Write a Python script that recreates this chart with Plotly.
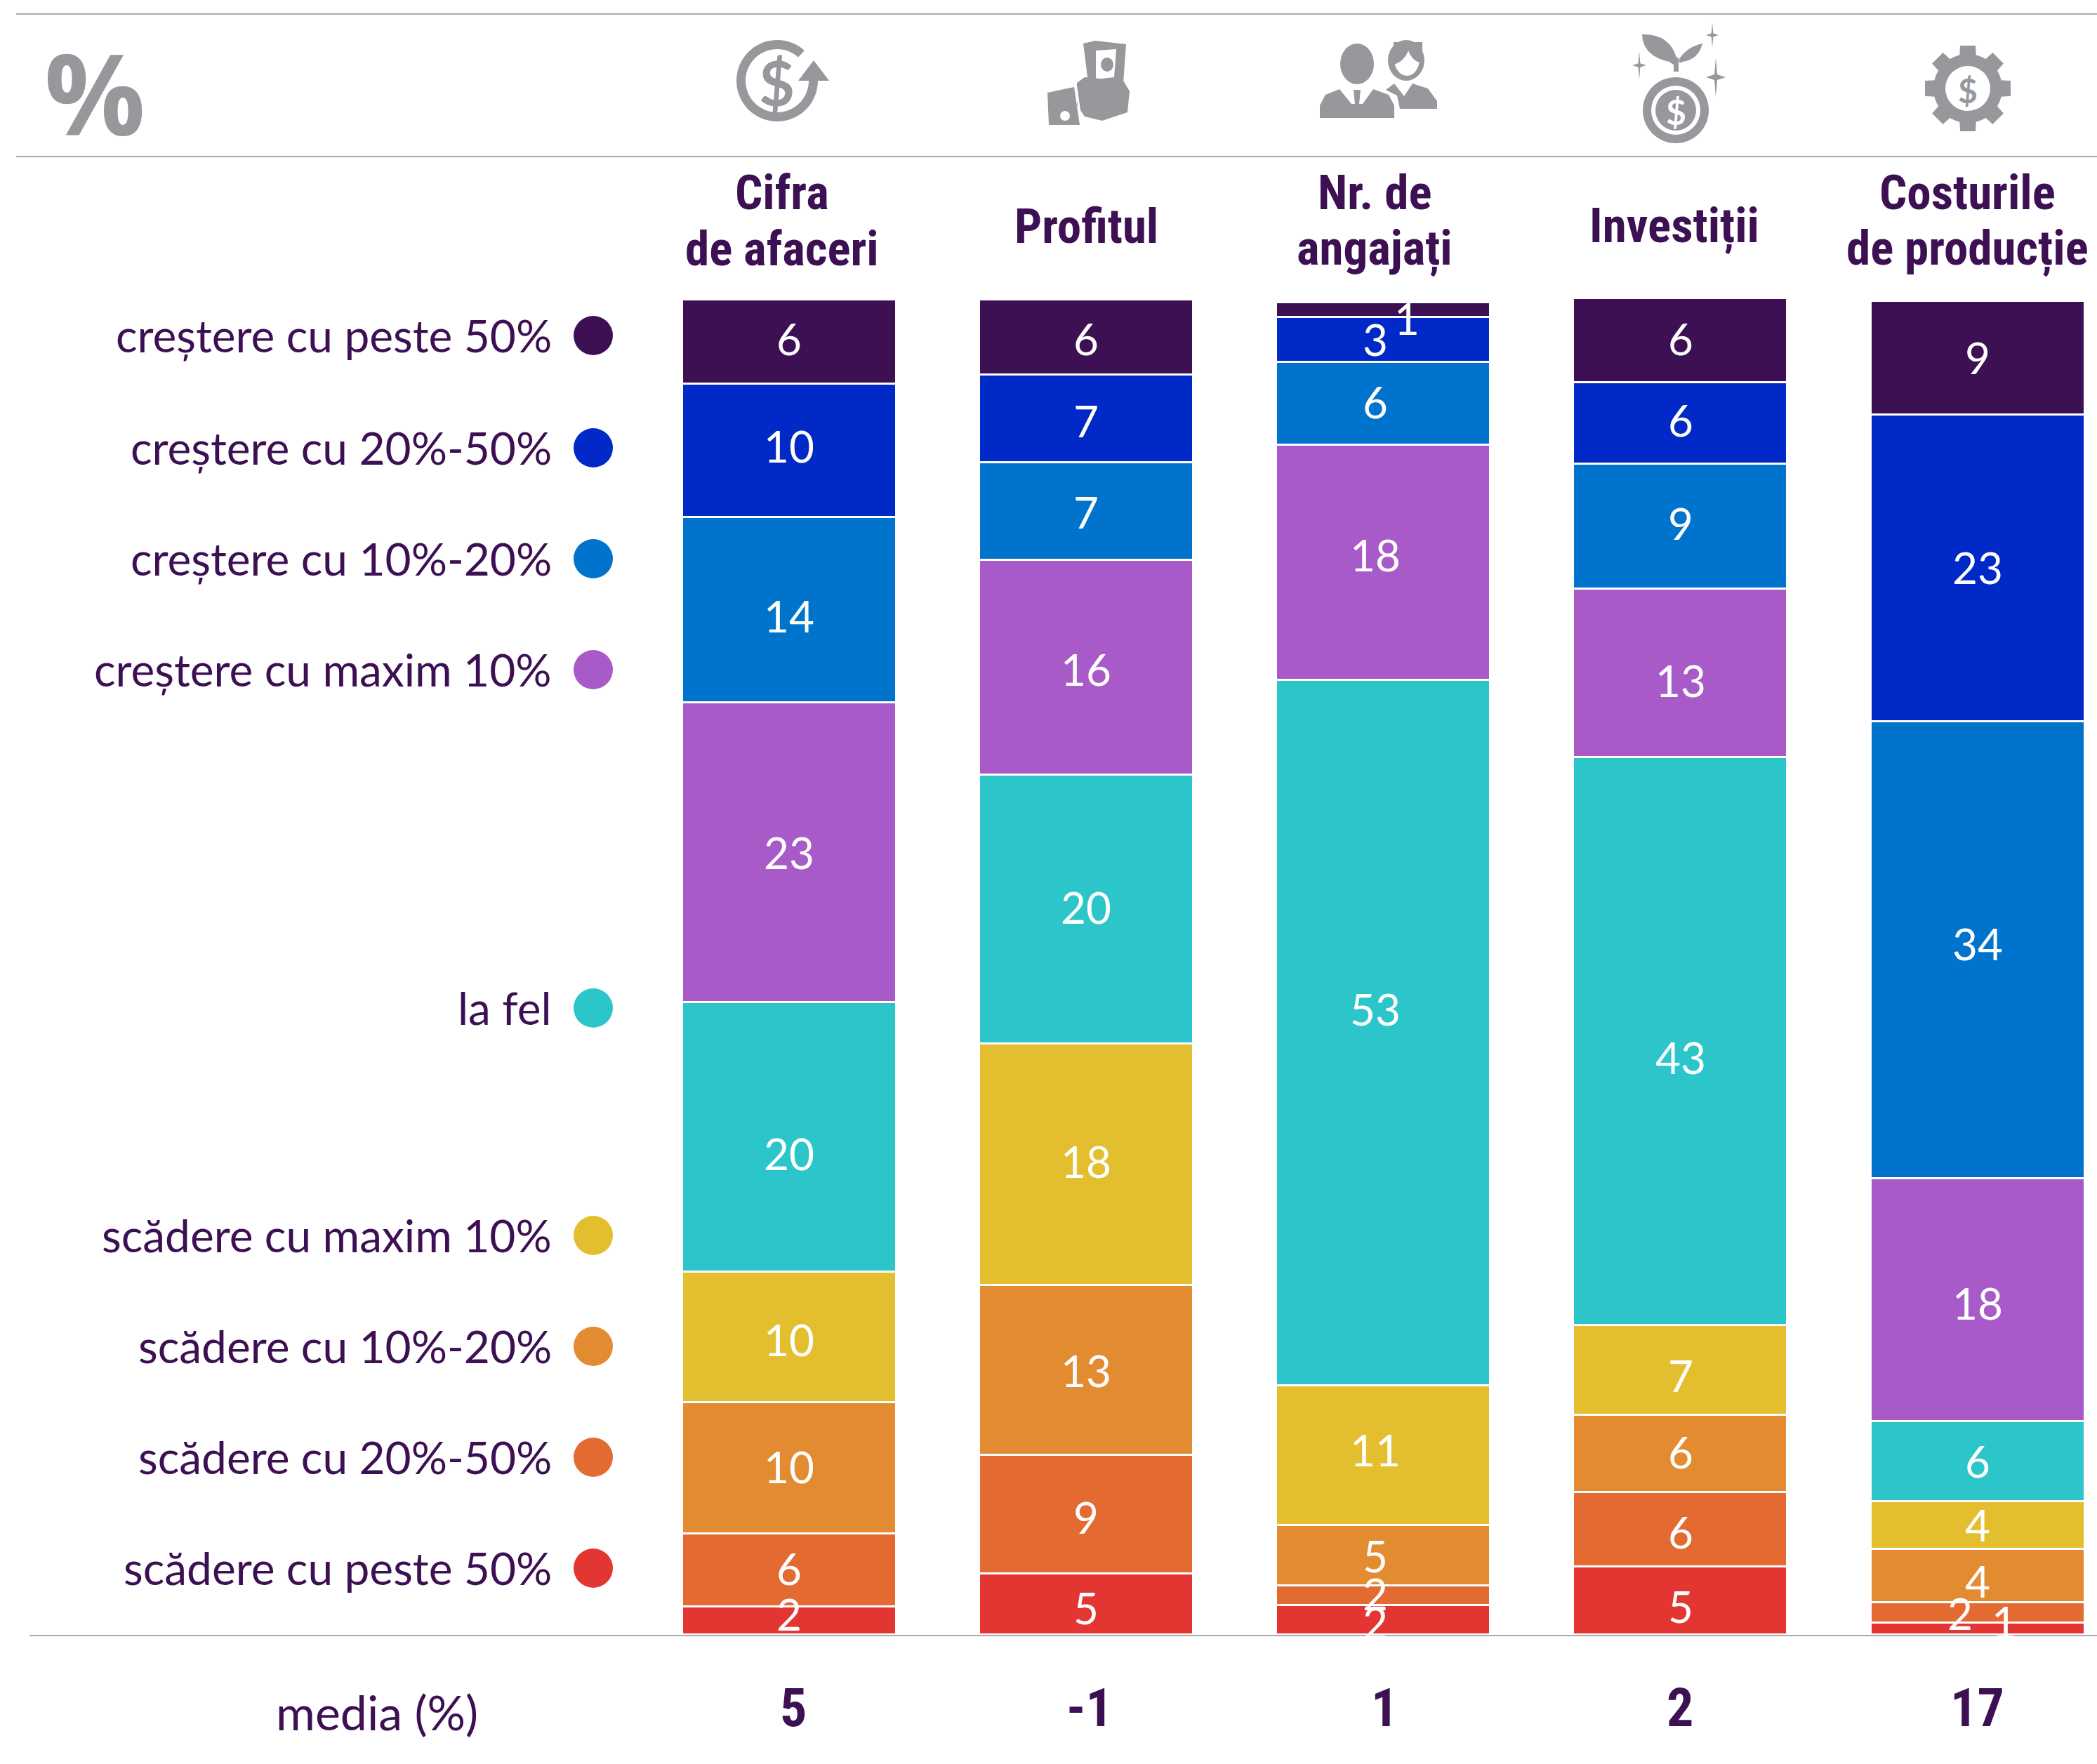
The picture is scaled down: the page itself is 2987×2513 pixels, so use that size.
import math
import plotly.graph_objects as go

# ---------- data ----------
categories = ["Cifra<br>de afaceri", "Profitul", "Nr. de<br>angajați", "Investiții", "Costurile<br>de producție"]
series_names = ["creștere cu peste 50%", "creștere cu 20%-50%", "creștere cu 10%-20%", "creștere cu maxim 10%",
                "la fel", "scădere cu maxim 10%", "scădere cu 10%-20%", "scădere cu 20%-50%", "scădere cu peste 50%"]
cr_peste50 = [6.3, 5.6, 1.1, 6.3, 8.5]
cr_20_50 = [10.0, 6.6, 3.4, 6.1, 23.0]
cr_10_20 = [13.9, 7.3, 6.2, 9.4, 34.3]
cr_max10 = [22.5, 16.1, 17.6, 12.6, 18.2]
la_fel = [20.2, 20.2, 52.9, 42.6, 6.0]
sc_max10 = [9.8, 18.1, 10.5, 6.7, 3.6]
sc_10_20 = [9.8, 12.7, 4.5, 5.8, 4.0]
sc_20_50 = [5.5, 8.9, 1.5, 5.6, 1.5]
sc_peste50 = [2.1, 4.6, 2.2, 5.1, 0.9]
series_values = [cr_peste50, cr_20_50, cr_10_20, cr_max10, la_fel, sc_max10, sc_10_20, sc_20_50, sc_peste50]
series_labels = [[6, 6, 1, 6, 9], [10, 7, 3, 6, 23], [14, 7, 6, 9, 34], [23, 16, 18, 13, 18], [20, 20, 53, 43, 6],
                 [10, 18, 11, 7, 4], [10, 13, 5, 6, 4], [6, 9, 2, 6, 2], [2, 5, 2, 5, 1]]
media = ["5", "-1", "1", "2", "17"]

# ---------- styles / layout constants ----------
W, H = 2987, 2513
colors = ["#3c1053", "#0029c7", "#0073cc", "#a75ac8", "#2cc5c9", "#e3bf2f", "#e38b30", "#e36b31", "#e33632"]
INK, GRAY, RULE = "#3c1053", "#97989b", "#a9aaac"
BODY = "Lato"
HEAD = "Noto Sans Condensed, Roboto Condensed, Open Sans Condensed, Lato"
PX_PER_UNIT = 19.0
BASE_Y = 2329
X0, STEP = 1124.0, 423.25
legend_y = [478, 638, 796, 954, 1436, 1760, 1918, 2076, 2234]
# nudges of value labels from their segment's centre, px (down positive), [series][column]
nudge_y = [[-2, 5, 15, 0, 2], [-4, 6, 2, -2, 2], [11, 4, 0, -2, -6], [2, 5, -8, 13, 7], [26, 0, -31, 25, 2],
           [6, -2, -5, 10, 2], [0, 3, 3, 0, 10], [0, 7, 0, 6, 3], [-7, 8, 6, 10, -7]]
nudge_x = {(0, 2): 33, (7, 4): -25, (8, 4): 38}
col_x = [0, 0, -12, 0, 0]

fig = go.Figure()
for i in reversed(range(9)):
    fig.add_trace(go.Bar(x=categories, y=series_values[i], name=series_names[i], width=305 / STEP,
                         marker=dict(color=colors[i], line=dict(color="white", width=3)),
                         xaxis="x", yaxis="y", showlegend=False, hoverinfo="x+y+name"))
# legend dots, on the pixel overlay
fig.add_trace(go.Scatter(x=[845] * 9, y=legend_y, mode="markers", xaxis="x2", yaxis="y2", showlegend=False,
                         hoverinfo="skip", marker=dict(size=56, color=colors, line=dict(width=0))))

ann = []
def text(x, y, s, size, color=INK, bold=False, anchor="center", family=BODY):
    ann.append(dict(x=x, y=y, xref="x2", yref="y2", text=f"<b>{s}</b>" if bold else s, showarrow=False,
                    xanchor=anchor, yanchor="middle", align="center",
                    font=dict(size=size, color=color, family=family)))

# value labels
for c in range(5):
    cum = 0.0
    stack = []
    for i in reversed(range(9)):
        stack.append((i, cum + series_values[i][c] / 2))
        cum += series_values[i][c]
    for i, mid in stack:
        ann.append(dict(x=c, y=mid, xref="x", yref="y", text=str(series_labels[i][c]), showarrow=False,
                        xshift=nudge_x.get((i, c), col_x[c]), yshift=3 - nudge_y[i][c], xanchor="center", yanchor="middle",
                        font=dict(size=62, color="white", family=BODY)))

# legend labels
for name, y in zip(series_names, legend_y):
    text(788, y - 1, name, 64, anchor="right")
text(537, 2438, "media (%)", 68)

# column headers and means
head_x = [1114, 1547, 1958, 2385, 2802]
for c in range(5):
    parts = categories[c].split("<br>")
    ys = [274, 354] if len(parts) == 2 else [322]
    for part, y in zip(parts, ys):
        text(head_x[c], y, part, 69, bold=True, family=HEAD)
mean_x = [1130, 1552, 1972, 2393, 2816]
for c in range(5):
    text(mean_x[c], 2433, media[c], 76, bold=True, family=HEAD)
text(135, 131, "%", 160, color=GRAY, bold=True, family="Open Sans")

# ---------- rules and icons, in page pixels ----------
shapes = []
def line(x0, x1, y):
    shapes.append(dict(type="line", xref="x2", yref="y2", x0=x0, x1=x1, y0=y, y1=y, line=dict(color=RULE, width=2)))
def poly(pts, color=GRAY):
    p = "M" + " L".join(f"{x:.1f},{y:.1f}" for x, y in pts) + " Z"
    shapes.append(dict(type="path", xref="x2", yref="y2", path=p, fillcolor=color, line=dict(width=0)))
def path(p, color=GRAY):
    shapes.append(dict(type="path", xref="x2", yref="y2", path=p, fillcolor=color, line=dict(width=0)))
def ell(cx, cy, rx, ry=None, color=GRAY):
    ry = rx if ry is None else ry
    shapes.append(dict(type="circle", xref="x2", yref="y2", x0=cx - rx, x1=cx + rx, y0=cy - ry, y1=cy + ry,
                       fillcolor=color, line=dict(width=0)))
def arc(cx, cy, r0, r1, a0, a1, color=GRAY, n=60):
    pts = [(cx + r1 * math.cos(math.radians(a0 + (a1 - a0) * k / n)), cy - r1 * math.sin(math.radians(a0 + (a1 - a0) * k / n))) for k in range(n + 1)]
    pts += [(cx + r0 * math.cos(math.radians(a1 + (a0 - a1) * k / n)), cy - r0 * math.sin(math.radians(a1 + (a0 - a1) * k / n))) for k in range(n + 1)]
    poly(pts, color)
def sparkle(cx, cy, rx, ry):
    k = 0.14
    poly([(cx, cy - ry), (cx + rx * k, cy - ry * k), (cx + rx, cy), (cx + rx * k, cy + ry * k),
          (cx, cy + ry), (cx - rx * k, cy + ry * k), (cx - rx, cy), (cx - rx * k, cy - ry * k)])

line(23, W, 20)
line(23, W, 223)
line(42, W, 2330)

# 1: coin with return arrow
arc(1107, 115, 45, 58, 48, 360)
poly([(1159, 86), (1181, 115), (1137, 115)])
text(1106, 117, "$", 88, color=GRAY, bold=True, family="Lato")

# 2: hand with banknote and card
poly([(1543, 62), (1560, 58), (1604, 63), (1600, 118), (1558, 122), (1549, 110)])
poly([(1561, 72), (1590, 70), (1587, 110), (1561, 113)], color="white")
ell(1577, 92, 9, 10)
poly([(1534, 118), (1545, 110), (1600, 115), (1609, 130), (1606, 160), (1570, 172), (1545, 166), (1534, 150)])
poly([(1492, 132), (1530, 124), (1538, 178), (1494, 178)])
poly([(1531, 122), (1534, 122), (1542, 178), (1539, 178)], color="white")
ell(1517, 165, 7, 7, color="white")

# 3: two people
ell(1933, 91, 24, 29)
poly([(1880, 168), (1880, 150), (1888, 135), (1908, 127), (1925, 148), (1941, 148), (1956, 127), (1978, 135), (1986, 150), (1986, 168)])
poly([(1928, 128), (1938, 128), (1936, 148), (1930, 148)])
ell(2003, 86, 26, 29)
ell(2004, 84, 18, 24, color="white")
path("M1985,92 Q2000,88 2006,72 Q2012,88 2026,90 L2026,60 L1985,60 Z")
poly([(1974, 128), (1986, 119), (2000, 137), (2012, 119), (2034, 126), (2047, 144), (2047, 155), (1994, 155), (1990, 136)])

# 4: plant with coin
ell(2387, 157, 47)
ell(2387, 157, 35, color="white")
ell(2387, 157, 29)
text(2387, 159, "$", 50, color="white", bold=True, family="Lato")
path("M2339,49 Q2378,48 2388,82 Q2392,100 2378,88 Q2340,80 2339,49 Z")
path("M2425,62 Q2404,66 2392,84 Q2390,92 2397,88 Q2420,84 2425,62 Z")
poly([(2384, 82), (2391, 82), (2391, 102), (2384, 102)])
sparkle(2439, 50, 9, 18)
sparkle(2335, 93, 10, 20)
sparkle(2444, 110, 14, 28)

# 5: gear
gx, gy = 2803, 126
for k in range(8):
    a = math.radians(k * 45 + 0)
    ux, uy = math.cos(a), math.sin(a)
    vx, vy = -uy, ux
    poly([(gx + ux * 40 + vx * 12, gy + uy * 40 + vy * 12), (gx + ux * 61 + vx * 11, gy + uy * 61 + vy * 11),
          (gx + ux * 61 - vx * 11, gy + uy * 61 - vy * 11), (gx + ux * 40 - vx * 12, gy + uy * 40 - vy * 12)])
ell(gx, gy, 49)
ell(gx, gy, 32, color="white")
text(gx, gy + 2, "$", 48, color=GRAY, bold=True, family="Lato")

left = -X0 / STEP
right = (W - X0) / STEP
hidden = dict(visible=False, showgrid=False, zeroline=False, fixedrange=True)
fig.update_layout(
    width=W, height=H, autosize=False, margin=dict(l=0, r=0, t=0, b=0, pad=0),
    paper_bgcolor="white", plot_bgcolor="white", barmode="stack", bargap=0, showlegend=False,
    xaxis=dict(hidden, type="category", categoryorder="array", categoryarray=categories, range=[left, right], domain=[0, 1]),
    yaxis=dict(hidden, range=[(BASE_Y - H) / PX_PER_UNIT, BASE_Y / PX_PER_UNIT], domain=[0, 1]),
    xaxis2=dict(hidden, range=[0, W], overlaying="x", domain=[0, 1]),
    yaxis2=dict(hidden, range=[H, 0], overlaying="y", domain=[0, 1]),
    shapes=shapes, annotations=ann, font=dict(family=BODY),
)
fig.write_html("out.html", config={"displayModeBar": False},
               post_script="document.body.style.margin='0';document.documentElement.style.overflow='hidden';")
